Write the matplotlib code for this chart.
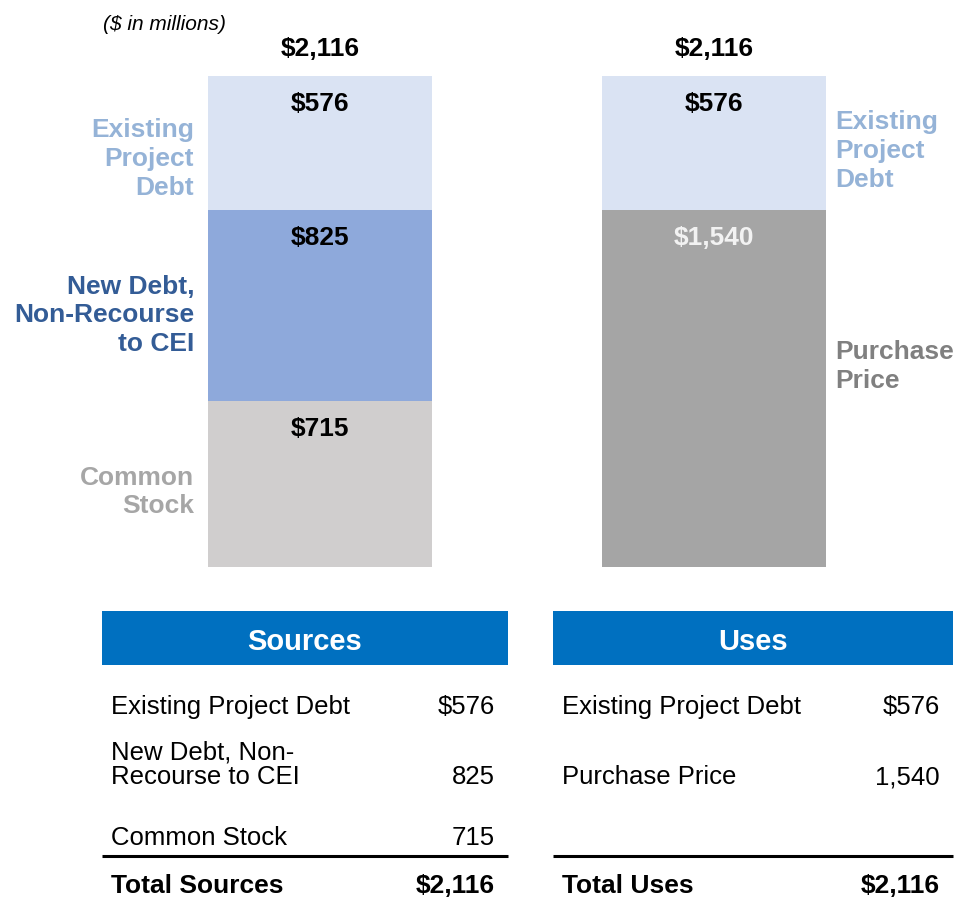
import matplotlib
matplotlib.use("Agg")
import matplotlib.pyplot as plt
from matplotlib.patches import Rectangle

plt.rcParams['font.family'] = ['Liberation Sans', 'DejaVu Sans']

# datos de las barras ($ en millones)
columnas = ["Sources", "Uses"]
fuentes_nombres = ["Common\nStock", "New Debt,\nNon-Recourse\nto CEI", "Existing\nProject\nDebt"]
fuentes_valores = [715, 825, 576]
usos_nombres = ["Purchase\nPrice", "Existing\nProject\nDebt"]
usos_valores = [1540, 576]

# tabla inferior
tabla_fuentes = ["Existing Project Debt", "New Debt, Non-\nRecourse to CEI", "Common Stock"]
tabla_fuentes_val = ["$576", "825", "715"]
tabla_usos = ["Existing Project Debt", "Purchase Price"]
tabla_usos_val = ["$576", "1,540"]

# colores
col_fuentes = ["#D0CECE", "#8EA9DB", "#DAE3F3"]
col_fuentes_txt = ["#A6A6A6", "#335C96", "#95B3D7"]
col_usos = ["#A5A5A5", "#DAE3F3"]
col_usos_txt = ["#808080", "#95B3D7"]
col_valor_usos = ["#F2F2F2", "black"]

W, H = 955, 902
fig = plt.figure(figsize=(W / 100, H / 100), dpi=100)

# ejes de las barras: base en y=567 px, tope en y=76 px
ax = fig.add_axes([0, (H - 567) / H, 1, (567 - 76) / H])
ax.set_xlim(-320 / 394, (W - 320) / 394)
ax.set_ylim(0, sum(fuentes_valores))
ax.axis("off")
ancho = 224 / 394
px = 0.72  # px -> pt
fs_barra = 19

def apilar(xc, valores, colores, nombres, col_txt, col_val, lado, desplaz):
    base = 0
    for v, c, n, ct, cv, dy in zip(valores, colores, nombres, col_txt, col_val, desplaz):
        ax.bar(xc, v, bottom=base, width=ancho, color=c, edgecolor="none")
        ax.annotate(f"${v:,}", (xc, base + v), xytext=(0, -28 * px), textcoords="offset points",
                    ha="center", va="center", fontsize=fs_barra, fontweight="bold", color=cv,
                    annotation_clip=False)
        if lado == "izq":
            ax.annotate(n, (xc - ancho / 2, base + v / 2), xytext=(-14 * px, dy * px),
                        textcoords="offset points", ha="right", va="center", ma="right",
                        fontsize=fs_barra, fontweight="bold", color=ct, annotation_clip=False,
                        linespacing=1.25)
        else:
            ax.annotate(n, (xc + ancho / 2, base + v / 2), xytext=(9 * px, dy * px),
                        textcoords="offset points", ha="left", va="center", ma="left",
                        fontsize=fs_barra, fontweight="bold", color=ct, annotation_clip=False,
                        linespacing=1.25)
        base += v
    ax.annotate(f"${base:,}", (xc, base), xytext=(0, 27 * px), textcoords="offset points",
                ha="center", va="center", fontsize=fs_barra, fontweight="bold", color="black",
                annotation_clip=False)

apilar(0, fuentes_valores, col_fuentes, fuentes_nombres, col_fuentes_txt,
       ["black"] * 3, "izq", [-8, -10, -16])
apilar(1, usos_valores, col_usos, usos_nombres, col_usos_txt, col_valor_usos, "der", [22, -8])

fig.text(103 / W, 1 - 25 / H, "($ in millions)", ha="left", va="center",
         fontsize=15, fontstyle="italic")

# tabla de fuentes y usos (coordenadas en pixeles)
tab = fig.add_axes([0, 0, 1, 1])
tab.set_xlim(0, W)
tab.set_ylim(H, 0)
tab.axis("off")

def tabla(x0, x1, titulo, nombres, valores, y_filas, total_txt, total_val):
    tab.add_patch(Rectangle((x0, 611), x1 - x0, 54, color="#0070C0", lw=0))
    tab.text((x0 + x1) / 2, 642, titulo, ha="center", va="center", fontsize=21,
             fontweight="bold", color="white")
    for n, v, y in zip(nombres, valores, y_filas):
        tab.text(x0 + 9, y, n, ha="left", va="baseline", fontsize=18.5, linespacing=1.05)
        tab.text(x1 - 13, y, v, ha="right", va="baseline", fontsize=18.5)
    tab.plot([x0, x1], [856, 856], color="black", lw=2.2, solid_capstyle="butt")
    tab.text(x0 + 9, 893, total_txt, ha="left", va="baseline", fontsize=19, fontweight="bold")
    tab.text(x1 - 13, 893, total_val, ha="right", va="baseline", fontsize=19, fontweight="bold")

tabla(102, 508, "Sources", tabla_fuentes, tabla_fuentes_val, [714, 784, 845],
      "Total Sources", f"${sum(fuentes_valores):,}")
tabla(553, 953, "Uses", tabla_usos, tabla_usos_val, [714, 784],
      "Total Uses", f"${sum(usos_valores):,}")

fig.savefig("out.png", dpi=100)
